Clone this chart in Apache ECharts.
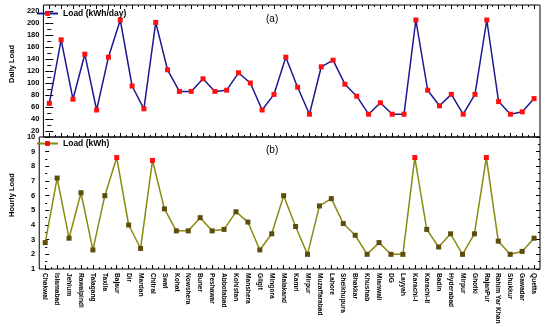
<!DOCTYPE html>
<html><head><meta charset="utf-8">
<script src="https://cdn.jsdelivr.net/npm/echarts@6/dist/echarts.min.js"></script>
<style>html,body{margin:0;padding:0;background:#fff}#c{width:550px;height:327px}</style>
</head><body><div id="c"></div>
<script>
const categories = ["Chakwal","Islamabad","Jehlum","Rawalpindi","Talagang","Taxila","Bajaur","Dir","Mardan","Chitral","Swat","Kohat","Nowshera","Buner","Peshawar","Abbotabad","Kohistan","Manshera","Gilgit","Mingora","Malakand","Kamri","Mirpur","Muzaffarabad","Lahore","Sheikhupura","Bhakkar","Khushab","Mianwali","DG","Layyah","Karachi-I","Karachi-II","Badin","Hyderabad","Mirpur","Ghotki","RajanPur","Rahim Yar Khan","Shukkur","Gawadar","Quetta"];
const dailyLoad = [66,172,73,148,55,143,205,95,57,201,122,86,86,107,86,88,117,100,55,81,143,93,48,127,138,98,78,48,67,48,48,205,88,62,81,48,81,205,69,48,52,74];
const hourlyLoad = [2.8,7.2,3.1,6.2,2.3,6.0,8.6,4.0,2.4,8.4,5.1,3.6,3.6,4.5,3.6,3.7,4.9,4.2,2.3,3.4,6.0,3.9,2.0,5.3,5.8,4.1,3.3,2.0,2.8,2.0,2.0,8.6,3.7,2.5,3.4,2.0,3.4,8.6,2.9,2.0,2.2,3.1];
const dailyLabels = [20,40,60,80,100,120,140,160,180,200,220];
const hourlyLabels = [1,2,3,4,5,6,7,8,9,10];

const FONT = '"Liberation Sans", Arial, sans-serif';
const xMajor = categories.map((_, i) => i);
const xMinor = categories.slice(1).map((_, i) => i + 0.5);
const dailyMajor = dailyLabels;
const dailyMinor = dailyMajor.slice(1).map(v => v - 10);
const hourlyMajor = hourlyLabels;
const hourlyMinor = hourlyMajor.slice(1).map(v => v - 0.5);

function xAx(grid, pos, ticks, len, withLabels) {
  return {
    type: 'value', gridIndex: grid, position: pos, min: -0.5, max: 41.5,
    axisLine: {show: false}, splitLine: {show: false},
    axisTick: {show: true, inside: true, length: len, customValues: ticks, lineStyle: {color: '#000', width: 1}},
    axisLabel: withLabels ? {
      show: true, customValues: xMajor, rotate: -90, margin: 4, hideOverlap: false,
      formatter: v => categories[Math.round(v)],
      fontFamily: FONT, fontWeight: 'bold', fontSize: 6.6, color: '#000'
    } : {show: false}
  };
}
function yAx(grid, pos, min, max, ticks, len, labels, name, shift) {
  const a = {
    type: 'value', gridIndex: grid, position: pos, min: min, max: max,
    axisLine: {show: false}, splitLine: {show: false},
    axisTick: {show: true, inside: true, length: len, customValues: ticks, lineStyle: {color: '#000', width: 1}},
    axisLabel: labels ? {show: true, customValues: labels, showMinLabel: true, showMaxLabel: true, hideOverlap: false,
      margin: 4, fontFamily: FONT, fontWeight: 'bold', fontSize: 7.5, color: '#000'} : {show: false}
  };
  if (name) {
    a.name = name; a.nameLocation = 'middle'; a.nameGap = 23; a.nameRotate = 90;
    a.nameTextStyle = {fontFamily: FONT, fontWeight: 'bold', fontSize: 7.5, color: '#000', padding: [0, 0, 0, shift]};
  }
  return a;
}

const chart = echarts.init(document.getElementById('c'), null, {renderer: 'canvas'});
chart.setOption({
  animation: false,
  backgroundColor: '#fff',
  title: [
    {text: '(a)', left: 261, top: 9, textStyle: {fontFamily: FONT, fontWeight: 'normal', fontSize: 10, color: '#000'}},
    {text: '(b)', left: 261, top: 140, textStyle: {fontFamily: FONT, fontWeight: 'normal', fontSize: 10, color: '#000'}}
  ],
  legend: [
    {data: ['Load (kWh/day)'], left: 36, top: 9, itemWidth: 21, itemHeight: 6, itemGap: 4,
     textStyle: {fontFamily: FONT, fontWeight: 'bold', fontSize: 8.5, color: '#000'}, padding: 0},
    {data: ['Load (kWh)'], left: 36, top: 139, itemWidth: 21, itemHeight: 6, itemGap: 4,
     itemStyle: {color: '#ff0000'},
     textStyle: {fontFamily: FONT, fontWeight: 'bold', fontSize: 8.5, color: '#000'}, padding: 0}
  ],
  grid: [
    {left: 33.5, right: 10, top: 5, height: 132, show: true, borderColor: '#000', borderWidth: 1, backgroundColor: 'transparent'},
    {left: 33.5, right: 10, top: 137, height: 132, show: true, borderColor: '#000', borderWidth: 1, backgroundColor: 'transparent'}
  ],
  xAxis: [
    xAx(0, 'bottom', xMajor, 4, false),
    xAx(0, 'bottom', xMinor, 2, false),
    xAx(0, 'top', xMajor, 4, false),
    xAx(0, 'top', xMinor, 2, false),
    xAx(1, 'bottom', xMajor, 4, true),
    xAx(1, 'bottom', xMinor, 2, false)
  ],
  yAxis: [
    yAx(0, 'left', 10, 230, dailyMajor, 4, dailyLabels, 'Daily Load', 14),
    yAx(0, 'left', 10, 230, dailyMinor, 2, null),
    yAx(0, 'right', 10, 230, dailyMajor, 4, null),
    yAx(0, 'right', 10, 230, dailyMinor, 2, null),
    yAx(1, 'left', 1, 10, hourlyMajor, 4, hourlyLabels, 'Hourly Load', 16),
    yAx(1, 'left', 1, 10, hourlyMinor, 2, null),
    yAx(1, 'right', 1, 10, hourlyMajor, 4, null),
    yAx(1, 'right', 1, 10, hourlyMinor, 2, null)
  ],
  series: [
    {
      name: 'Load (kWh/day)', type: 'line', xAxisIndex: 0, yAxisIndex: 0,
      data: dailyLoad.map((v, i) => [i, v]),
      symbol: 'rect', symbolSize: 5, showSymbol: true,
      lineStyle: {color: '#1a1a8e', width: 1.5},
      itemStyle: {color: '#ff1010'}
    },
    {
      name: 'Load (kWh)', type: 'line', xAxisIndex: 4, yAxisIndex: 4,
      data: hourlyLoad.map((v, i) => [i, v]),
      symbol: 'rect', symbolSize: 5, showSymbol: true,
      lineStyle: {color: '#8a8a12', width: 1.5},
      itemStyle: {color: p => (p.value[1] >= 8 ? '#ff1010' : '#5e4c0c')}
    }
  ]
});
</script>
</body></html>
